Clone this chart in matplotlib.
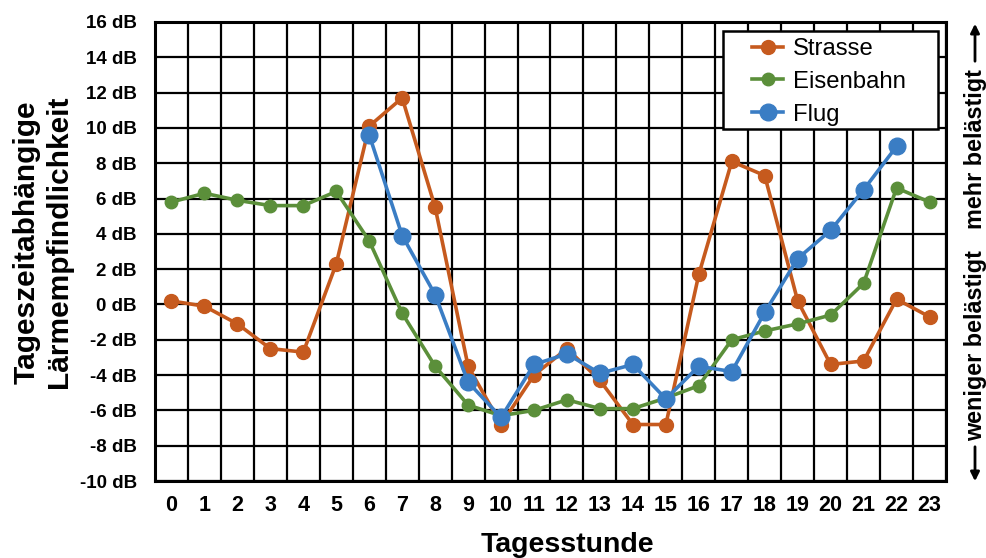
import matplotlib
matplotlib.use("Agg")
import matplotlib.pyplot as plt
from matplotlib.patches import FancyArrowPatch, Rectangle
import numpy as np

hours = list(range(24))
strasse = [0.2, -0.1, -1.1, -2.5, -2.7, 2.3, 10.1, 11.7, 5.5, -3.5, -6.8, -4.0,
           -2.5, -4.3, -6.8, -6.8, 1.7, 8.1, 7.3, 0.2, -3.4, -3.2, 0.3, -0.7]
eisenbahn = [5.8, 6.3, 5.9, 5.6, 5.6, 6.4, 3.6, -0.5, -3.5, -5.7, -6.3, -6.0,
             -5.4, -5.9, -5.9, -5.3, -4.6, -2.0, -1.5, -1.1, -0.6, 1.2, 6.6, 5.8]
flug = [np.nan] * 6 + [9.6, 3.9, 0.55, -4.4, -6.4, -3.4, -2.8, -3.9, -3.4, -5.35,
                       -3.5, -3.8, -0.45, 2.6, 4.2, 6.5, 8.95, np.nan]
yticks = list(range(-10, 17, 2))
ytick_labels = [f"{v} dB" for v in yticks]

plt.rcParams['font.family'] = ['Liberation Sans', 'DejaVu Sans']

W, H = 987, 558
fig = plt.figure(figsize=(W / 100, H / 100), dpi=100)
ax = fig.add_axes([155 / W, 1 - 481 / H, (946 - 155) / W, (481 - 22) / H])

c_str = '#C65A1E'
c_eis = '#5B8F3A'
c_flu = '#3A7DC4'

ax.plot(hours, strasse, color=c_str, lw=2.6, marker='o', ms=10, label='Strasse', zorder=3)
ax.plot(hours, eisenbahn, color=c_eis, lw=2.6, marker='o', ms=9, label='Eisenbahn', zorder=3)
ax.plot(hours, flug, color=c_flu, lw=2.6, marker='o', ms=12, label='Flug', zorder=4)

ax.set_xlim(-0.5, 23.5)
ax.set_ylim(-10, 16)
ax.set_xticks(hours)
ax.set_xticklabels([str(h) for h in hours], fontsize=15.5, fontweight='bold')
ax.set_xticks(np.arange(-0.5, 24, 1), minor=True)
ax.set_yticks(yticks)
ax.set_yticklabels(ytick_labels, fontsize=13.5, fontweight='bold')
ax.tick_params(axis='both', which='both', length=0)
ax.tick_params(axis='y', pad=13)
ax.tick_params(axis='x', pad=10)
ax.grid(True, which='minor', axis='x', color='black', lw=1.6, zorder=1)
ax.grid(True, which='major', axis='y', color='black', lw=1.6, zorder=1)
ax.grid(False, which='major', axis='x')
for s in ax.spines.values():
    s.set_linewidth(2.2)
    s.set_color('black')

# legend box drawn manually
box = Rectangle((723 / W, 1 - 129 / H), (938 - 723) / W, (129 - 31) / H,
                transform=fig.transFigure, facecolor='white', edgecolor='black',
                lw=1.8, zorder=9, clip_on=False)
ax.add_patch(box)
leg = ax.legend(loc='upper left', bbox_to_anchor=(752 / W, 1 - 38 / H),
                bbox_transform=fig.transFigure, fontsize=17.2, frameon=False,
                handlelength=1.3, labelspacing=0.45, borderpad=0,
                handletextpad=0.42, borderaxespad=0)
leg.set_zorder(10)

# axis titles
fig.text(567 / W, 1 - 552 / H, 'Tagesstunde', fontsize=20.5, fontweight='bold',
         ha='center', va='baseline')
fig.text(35 / W, 1 - 242 / H, 'Tageszeitabhängige', fontsize=21.5, fontweight='bold',
         rotation=90, rotation_mode='anchor', ha='center', va='baseline')
fig.text(67 / W, 1 - 242 / H, 'Lärmempfindlichkeit', fontsize=21.5, fontweight='bold',
         rotation=90, rotation_mode='anchor', ha='center', va='baseline')

# right side annotation
fig.text(982 / W, 1 - 229 / H, 'mehr belästigt', fontsize=16.8, fontweight='bold',
         rotation=90, rotation_mode='anchor', ha='left', va='baseline')
fig.text(982 / W, 1 - 441 / H, 'weniger belästigt', fontsize=16.8, fontweight='bold',
         rotation=90, rotation_mode='anchor', ha='left', va='baseline')
fig.patches.append(FancyArrowPatch((975 / W, 1 - 64 / H), (975 / W, 1 - 21 / H),
                                   transform=fig.transFigure, arrowstyle='-|>',
                                   mutation_scale=13, lw=2, color='black'))
fig.patches.append(FancyArrowPatch((975 / W, 1 - 444 / H), (975 / W, 1 - 484 / H),
                                   transform=fig.transFigure, arrowstyle='-|>',
                                   mutation_scale=13, lw=2, color='black'))

fig.savefig('out.png', dpi=100)
